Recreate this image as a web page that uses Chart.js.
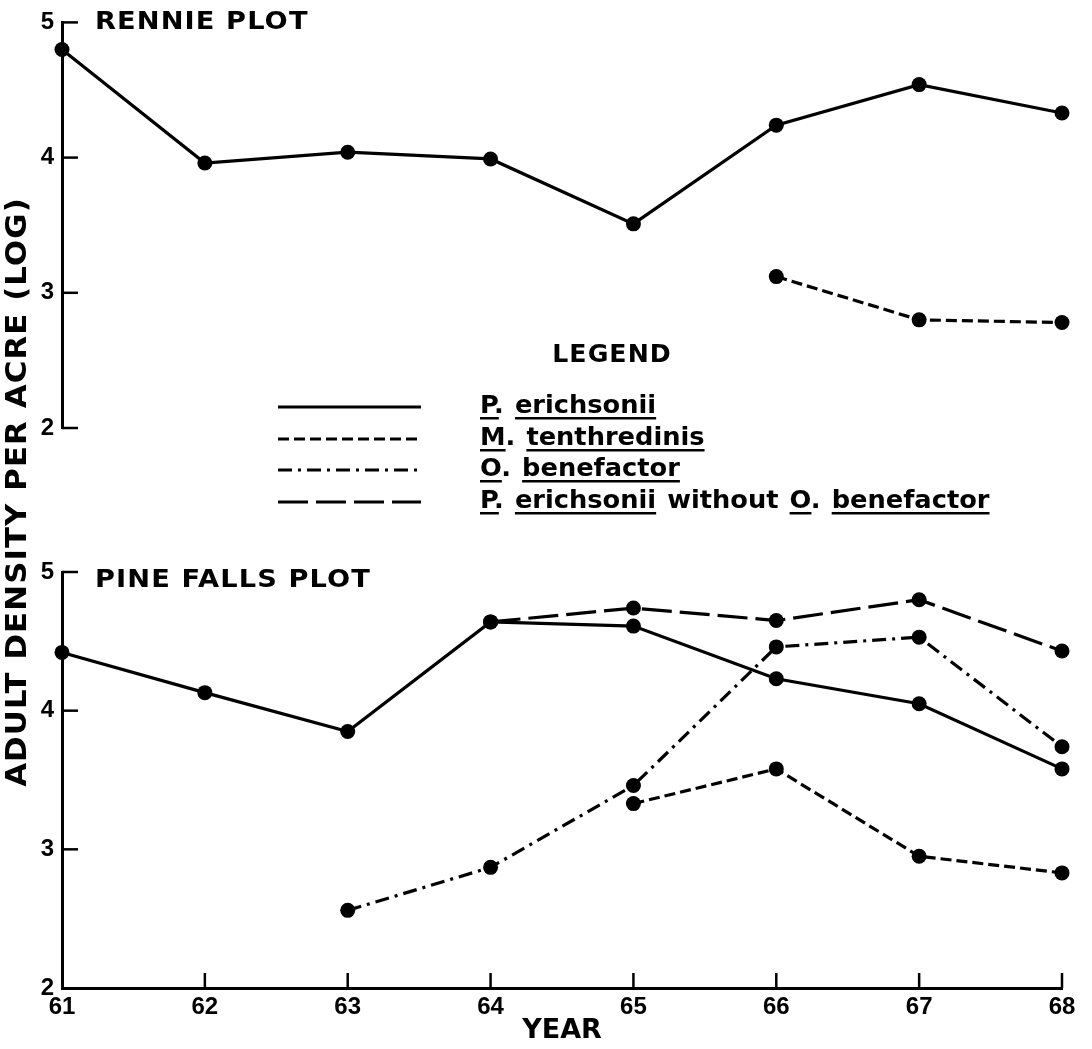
<!DOCTYPE html>
<html><head><meta charset="utf-8">
<script src="https://cdn.jsdelivr.net/npm/chart.js@4.4.1/dist/chart.umd.min.js"></script>
<style>
html,body{margin:0;padding:0;background:#fff;}
#wrap{position:relative;width:1092px;height:1049px;background:#fff;}
canvas{position:absolute;left:0;top:0;}
</style></head><body>
<div id="wrap"><canvas id="bottom" width="1092" height="1049"></canvas><canvas id="top" width="1092" height="1049"></canvas></div>
<script>
// ---- data ----
const years = ['61','62','63','64','65','66','67','68'];
const yTicks = [2, 3, 4, 5];
const seriesNames = ['P. erichsonii', 'M. tenthredinis', 'O. benefactor', 'P. erichsonii without O. benefactor'];
const rennieErichsonii   = [4.80, 3.96, 4.04, 3.99, 3.51, 4.24, 4.54, 4.33];
const rennieTenthredinis = [null, null, null, null, null, 3.12, 2.80, 2.78];
const pineErichsonii     = [4.42, 4.13, 3.85, 4.64, 4.61, 4.23, 4.05, 3.58];
const pineTenthredinis   = [null, null, null, null, 3.33, 3.58, 2.95, 2.83];
const pineBenefactor     = [null, null, 2.56, 2.87, 3.46, 4.46, 4.53, 3.74];
const pineWithout        = [null, null, null, 4.64, 4.74, 4.65, 4.80, 4.43];
const panelTitles = ['RENNIE PLOT', 'PINE FALLS PLOT'];
const yTitle = 'ADULT DENSITY PER ACRE (LOG)';
const xTitle = 'YEAR';
const legendTitle = 'LEGEND';

// ---- styles ----
const INK = '#000';
const dashStyles = [[], [11, 5], [14, 6, 3, 6], [30, 8]];
const FONT = '"DejaVu Sans", "Liberation Sans", sans-serif';
const TICKFONT = '"Liberation Sans", Arial, sans-serif';

function ds(label, data, dashIdx) {
  return {
    label, data,
    borderColor: INK, backgroundColor: INK,
    borderWidth: 3.2, borderDash: dashStyles[dashIdx],
    pointRadius: 7.5, pointHoverRadius: 7.5, pointBackgroundColor: INK, pointBorderWidth: 0,
    tension: 0, spanGaps: false, clip: false
  };
}

function inwardTicks(chart, skipLowest, doX) {
  const ctx = chart.ctx, ys = chart.scales.y, xs = chart.scales.x, ca = chart.chartArea;
  ctx.save();
  ctx.strokeStyle = INK; ctx.lineWidth = 2.5; ctx.setLineDash([]);
  yTicks.forEach(v => {
    if (skipLowest && v === yTicks[0]) return;
    const py = ys.getPixelForValue(v);
    ctx.beginPath(); ctx.moveTo(ca.left, py); ctx.lineTo(ca.left + 16, py); ctx.stroke();
  });
  if (doX) {
    years.forEach((y, i) => {
      if (i === 0) return;
      const px = xs.getPixelForValue(i);
      ctx.beginPath(); ctx.moveTo(px, ca.bottom); ctx.lineTo(px, ca.bottom - 15); ctx.stroke();
    });
  }
  ctx.restore();
}

// wide (horizontally stretched) bold text, like the extended face of the original
function wideText(ctx, text, x, y, size, stretch, align) {
  ctx.save();
  ctx.fillStyle = INK;
  ctx.font = 'bold ' + size + 'px ' + FONT;
  ctx.letterSpacing = '1px';
  ctx.textBaseline = 'middle';
  ctx.textAlign = align || 'left';
  ctx.translate(x, y);
  ctx.scale(stretch, 1);
  ctx.fillText(text, 0, 0);
  ctx.restore();
}

function drawLegend(ctx) {
  wideText(ctx, legendTitle, 612, 356, 24, 1.05, 'center');
  const rowsY = [405, 437, 468, 500];
  const S = 1.07;
  seriesNames.forEach((name, i) => {
    const cy = rowsY[i];
    ctx.save();
    ctx.fillStyle = INK; ctx.strokeStyle = INK;
    // sample line
    ctx.lineWidth = 3; ctx.setLineDash(dashStyles[i]);
    ctx.beginPath(); ctx.moveTo(278, cy + 2); ctx.lineTo(421, cy + 2); ctx.stroke();
    ctx.setLineDash([]);
    // text with underlines
    ctx.translate(480, cy + 8);
    ctx.scale(S, 1);
    ctx.font = 'bold 24px ' + FONT;
    ctx.textAlign = 'left'; ctx.textBaseline = 'alphabetic';
    let x = 0;
    name.split(' ').forEach(w => {
      ctx.fillText(w, x, 0);
      const full = ctx.measureText(w).width;
      if (w !== 'without') {
        const core = w.endsWith('.') ? w.slice(0, -1) : w;
        ctx.fillRect(x, 4, ctx.measureText(core).width, 2.5);
      }
      x += full + ctx.measureText(' ').width + 2;
    });
    ctx.restore();
  });
}

function drawYTitle(ctx) {
  ctx.save();
  ctx.translate(19, 492);
  ctx.rotate(-Math.PI / 2);
  wideText(ctx, yTitle, 0, 0, 28, 1.1, 'center');
  ctx.restore();
}

const yScaleBase = () => ({
  type: 'linear', min: 2, max: 5,
  afterFit: s => { s.width = 62; },
  afterBuildTicks: s => { s.ticks = yTicks.map(v => ({ value: v })); },
  grid: { display: false, drawTicks: false },
  border: { display: true, color: INK, width: 3 },
  ticks: { color: INK, padding: 8, font: { family: TICKFONT, size: 24, weight: 'bold' } }
});

// ---- top chart: Rennie ----
new Chart(document.getElementById('top'), {
  type: 'line',
  data: { labels: years, datasets: [ds(seriesNames[0], rennieErichsonii, 0), ds(seriesNames[1], rennieTenthredinis, 1)] },
  options: {
    responsive: false, animation: false, events: [],
    layout: { padding: { left: 0, right: 30, top: 15, bottom: 621 } },
    plugins: { legend: { display: false }, tooltip: { enabled: false } },
    scales: {
      x: { type: 'category', display: false, offset: false },
      y: yScaleBase()
    }
  },
  plugins: [{
    id: 'topDecor',
    afterDraw(chart) {
      inwardTicks(chart, false, false);
      wideText(chart.ctx, panelTitles[0], 95, 22, 25, 1.09);
    }
  }]
});

// ---- bottom chart: Pine Falls ----
new Chart(document.getElementById('bottom'), {
  type: 'line',
  data: { labels: years, datasets: [
    ds(seriesNames[0], pineErichsonii, 0),
    ds(seriesNames[1], pineTenthredinis, 1),
    ds(seriesNames[2], pineBenefactor, 2),
    ds(seriesNames[3], pineWithout, 3)
  ] },
  options: {
    responsive: false, animation: false, events: [],
    layout: { padding: { left: 0, right: 30, top: 572, bottom: 0 } },
    plugins: { legend: { display: false }, tooltip: { enabled: false } },
    scales: {
      x: {
        type: 'category', offset: false,
        afterFit: s => { s.height = 61; },
        grid: { display: false, drawTicks: false },
        border: { display: true, color: INK, width: 3 },
        ticks: { color: INK, padding: 5, maxRotation: 0, autoSkip: false, font: { family: TICKFONT, size: 24, weight: 'bold' } },
        title: { display: true, text: xTitle, color: INK, padding: { top: 0, bottom: 2 }, font: { family: FONT, size: 27, weight: 'bold' } }
      },
      y: yScaleBase()
    }
  },
  plugins: [{
    id: 'bottomDecor',
    afterDraw(chart) {
      inwardTicks(chart, true, true);
      wideText(chart.ctx, panelTitles[1], 95, 580, 25, 1.09);
      drawYTitle(chart.ctx);
      drawLegend(chart.ctx);
    }
  }]
});
</script>
</body></html>
